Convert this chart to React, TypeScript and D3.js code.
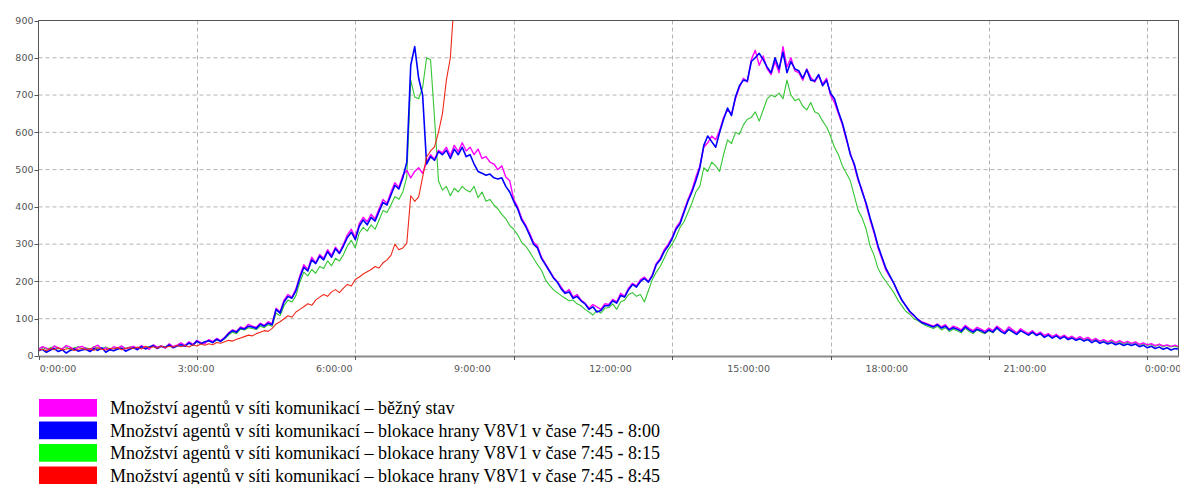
import React, { useEffect, useRef } from 'react';
import * as d3 from 'd3';

// vzorky po 5 minutach od 0:00
const STEP_MIN = 5;

const bezny = [
  18, 25, 21, 16, 27, 22, 19, 28, 24, 17, 23, 26,
  20, 15, 24, 29, 18, 22, 16, 25, 21, 27, 19, 23,
  26, 20, 28, 22, 18, 30, 24, 27, 21, 33, 25, 29,
  35, 28, 38, 31, 42, 36, 33, 44, 39, 47, 41, 50,
  62, 70, 66, 78, 74, 85, 80, 77, 88, 82, 92, 86,
  128, 118, 150, 165, 158, 180, 215, 245, 232, 265, 250, 272,
  262, 285, 270, 292, 278, 300, 325, 340, 318, 355, 372, 360,
  380, 368, 395, 420, 410, 440, 465, 452, 485, 498, 478, 495,
  505, 490, 520, 540, 528, 552, 545, 560, 538, 565, 548, 572,
  550, 560, 540, 555, 530, 535, 520, 515, 500, 510, 480, 470,
  420, 400, 370, 352, 330, 305, 295, 265, 248, 230, 212, 200,
  185, 170, 178, 158, 165, 150, 142, 128, 138, 132, 125, 140,
  138, 152, 145, 168, 160, 182, 195, 188, 205, 212, 200, 218,
  248, 262, 285, 300, 318, 345, 360, 390, 420, 445, 480, 510,
  560, 572, 590, 580, 605, 640, 660, 650, 690, 720, 745, 735,
  795, 820, 780, 805, 770, 755, 790, 760, 830, 775, 800, 765,
  760, 740, 770, 748, 735, 752, 730, 745, 700, 680, 650, 620,
  580, 545, 510, 470, 445, 405, 365, 330, 290, 260, 230, 212,
  195, 170, 150, 135, 118, 108, 100, 92, 88, 84, 80, 86,
  78, 84, 72, 80, 76, 70, 82, 74, 68, 77, 72, 66,
  75, 68, 80, 72, 64, 78, 70, 62, 73, 66, 60, 68,
  58, 64, 55, 60, 52, 58, 50, 56, 48, 53, 46, 52,
  45, 50, 42, 47, 40, 44, 38, 43, 36, 41, 35, 39,
  34, 38, 31, 35, 30, 33, 28, 32, 27, 30, 26, 29,
  25,
];

const blokace800 = [
  14, 18, 10, 16, 20, 12, 17, 8, 15, 19, 13, 16,
  18, 12, 20, 15, 22, 10, 17, 14, 19, 21, 13, 18,
  22, 17, 25, 19, 24, 28, 20, 26, 23, 30, 22, 27,
  30, 26, 35, 29, 40, 33, 38, 41, 36, 45, 39, 48,
  60, 68, 64, 75, 72, 80, 78, 74, 85, 80, 88, 84,
  125, 115, 145, 160, 155, 175, 210, 238, 228, 258, 248, 268,
  258, 280, 265, 288, 275, 295, 318, 332, 312, 348, 365, 352,
  372, 362, 388, 412, 405, 432, 458, 448, 478, 520, 780, 830,
  745, 700, 515, 535, 525, 548, 540, 552, 530, 555, 540, 560,
  535, 540, 515, 495, 490, 485, 488, 478, 475, 478, 455, 440,
  415, 395, 365, 348, 325, 300, 290, 262, 245, 228, 210, 198,
  180, 168, 172, 155, 160, 148, 140, 125, 132, 118, 122, 135,
  135, 148, 142, 162, 158, 178, 192, 185, 200, 208, 198, 215,
  245, 258, 280, 295, 315, 340, 355, 385, 415, 440, 470, 505,
  565, 590, 575, 560, 600, 635, 665, 645, 695, 725, 740, 738,
  790, 800, 812, 795, 775, 760, 800, 770, 815, 760, 790, 770,
  765, 745, 768, 740, 738, 755, 725, 740, 705, 690, 655, 625,
  585, 540, 515, 475, 440, 410, 370, 335, 295, 265, 235, 215,
  195, 172, 150, 135, 120, 110, 98, 90, 86, 82, 78, 84,
  75, 80, 70, 76, 72, 66, 78, 70, 64, 72, 68, 62,
  70, 64, 76, 66, 60, 72, 65, 58, 68, 62, 56, 64,
  55, 60, 50, 56, 48, 54, 46, 52, 44, 48, 42, 46,
  40, 44, 36, 42, 34, 38, 32, 36, 30, 34, 28, 32,
  28, 32, 25, 29, 22, 26, 20, 24, 18, 22, 16, 20,
  18,
];

const blokace815 = [
  20, 23, 18, 22, 26, 19, 21, 24, 17, 22, 25, 20,
  22, 18, 25, 21, 20, 24, 19, 23, 18, 26, 21, 24,
  24, 21, 27, 23, 25, 28, 22, 26, 24, 29, 25, 28,
  32, 29, 36, 31, 38, 34, 36, 40, 37, 43, 40, 46,
  56, 64, 60, 72, 70, 76, 74, 71, 80, 76, 84, 80,
  115, 108, 135, 150, 145, 162, 198, 225, 215, 232, 222, 240,
  235, 255, 242, 262, 255, 272, 295, 310, 290, 330, 345, 335,
  352, 340, 365, 390, 385, 405, 428, 420, 440, 480, 740, 695,
  690, 720, 800, 795, 640, 470, 445, 455, 430, 450, 440, 455,
  445, 440, 455, 425, 440, 415, 420, 405, 395, 380, 368, 350,
  340, 325, 305, 295, 280, 262, 245, 230, 205, 190, 178, 170,
  162, 155, 148, 150, 140, 135, 125, 118, 110, 122, 115, 128,
  130, 140, 125, 145, 150, 165, 170, 160, 165, 145, 175, 205,
  225, 240, 262, 285, 300, 320, 345, 360, 385, 410, 440, 455,
  505, 495, 520, 510, 495, 540, 580, 570, 600, 595, 620, 635,
  640, 655, 630, 660, 690, 700, 695, 705, 690, 740, 700, 685,
  690, 670, 660, 680, 655, 650, 630, 615, 590, 560, 540, 510,
  490, 470, 430, 390, 370, 340, 295, 270, 235, 215, 200, 185,
  170, 150, 135, 120, 112, 100, 95, 88, 82, 78, 74, 80,
  70, 76, 66, 72, 68, 62, 74, 66, 60, 70, 64, 60,
  68, 62, 74, 66, 60, 70, 64, 58, 68, 62, 56, 62,
  56, 60, 52, 58, 50, 55, 48, 54, 46, 50, 44, 48,
  42, 46, 40, 44, 38, 42, 36, 40, 34, 38, 32, 36,
  32, 36, 29, 33, 28, 31, 26, 30, 25, 28, 24, 27,
  22,
];

// po 8:45 mimo rozsah grafu
const blokace845 = [
  15, 18, 14, 20, 17, 22, 16, 19, 21, 15, 18, 20,
  17, 20, 15, 22, 18, 16, 21, 19, 23, 17, 20, 22,
  20, 24, 19, 26, 22, 25, 21, 27, 23, 26, 24, 28,
  25, 28, 24, 30, 27, 32, 29, 33, 30, 36, 34, 38,
  42, 40, 45, 48, 52, 56, 54, 60, 64, 68, 66, 74,
  86, 92, 100, 108, 104, 118, 125, 132, 140, 136, 150, 158,
  165, 160, 172, 178, 170, 182, 192, 188, 205, 212, 220, 226,
  232, 240, 236, 250, 258, 270, 300, 285, 290, 302, 430, 415,
  427, 480, 534, 550, 561, 600, 650, 740, 800, 960, 1100,
];

const seriesNames = [
  'Množství agentů v síti komunikací – běžný stav',
  'Množství agentů v síti komunikací – blokace hrany V8V1 v čase 7:45 - 8:00',
  'Množství agentů v síti komunikací – blokace hrany V8V1 v čase 7:45 - 8:15',
  'Množství agentů v síti komunikací – blokace hrany V8V1 v čase 7:45 - 8:45',
];
const swatchColors = ['#ff00ff', '#0000ff', '#00ff00', '#ff0000'];
const lineColors = ['#ff00ff', '#0000ff', '#33c633', '#f02818'];
const lineWidths = [1.4, 1.6, 1.1, 1.1];

const xTickLabels = ['0:00:00', '3:00:00', '6:00:00', '9:00:00', '12:00:00', '15:00:00', '18:00:00', '21:00:00', '0:00:00'];
const yTicks = [0, 100, 200, 300, 400, 500, 600, 700, 800, 900];
// mrizka po 200 minutach
const gridMinutes = [0, 200, 400, 600, 800, 1000, 1200, 1400];

const App = () => {
  const ref = useRef<SVGSVGElement | null>(null);

  useEffect(() => {
    const W = 1180;
    const H = 484;
    const plot = { left: 38.5, right: 1179, top: 20.5, bottom: 356 };

    const svg = d3.select(ref.current);
    svg.selectAll('*').remove();

    const x = d3.scaleLinear().domain([0, 24 * 60]).range([plot.left, plot.right]);
    const y = d3.scaleLinear().domain([0, 900]).range([plot.bottom, plot.top]);
    const xLab = d3
      .scalePoint<number>()
      .domain(d3.range(xTickLabels.length))
      .range([plot.left + 19.5, plot.right - 16]);

    svg.append('rect').attr('width', W).attr('height', H).attr('fill', '#fff');

    // mrizka
    svg
      .append('g')
      .selectAll('line')
      .data(yTicks.slice(1, -1))
      .enter()
      .append('line')
      .attr('x1', plot.left)
      .attr('x2', plot.right)
      .attr('y1', d => y(d))
      .attr('y2', d => y(d))
      .attr('stroke', '#b4b4b4')
      .attr('stroke-dasharray', '4,3');

    svg
      .append('g')
      .selectAll('line')
      .data(gridMinutes.slice(1))
      .enter()
      .append('line')
      .attr('x1', d => Math.round(x(d)) + 0.5)
      .attr('x2', d => Math.round(x(d)) + 0.5)
      .attr('y1', plot.top)
      .attr('y2', plot.bottom)
      .attr('stroke', '#b4b4b4')
      .attr('stroke-dasharray', '4,3');

    svg
      .append('clipPath')
      .attr('id', 'plotClip')
      .append('rect')
      .attr('x', plot.left)
      .attr('y', plot.top)
      .attr('width', plot.right - plot.left)
      .attr('height', plot.bottom - plot.top);

    const line = d3
      .line<number>()
      .x((d, i) => x(i * STEP_MIN))
      .y(d => y(d));

    const series = [bezny, blokace800, blokace815, blokace845];
    const order = [2, 0, 1, 3];
    const lines = svg.append('g').attr('clip-path', 'url(#plotClip)');
    order.forEach(k => {
      lines
        .append('path')
        .datum(series[k])
        .attr('fill', 'none')
        .attr('stroke', lineColors[k])
        .attr('stroke-width', lineWidths[k])
        .attr('stroke-linejoin', 'round')
        .attr('d', line);
    });

    // ramecek a osy
    svg
      .append('line')
      .attr('x1', plot.left)
      .attr('x2', plot.right)
      .attr('y1', plot.top)
      .attr('y2', plot.top)
      .attr('stroke', '#555');
    svg
      .append('line')
      .attr('x1', plot.right - 0.5)
      .attr('x2', plot.right - 0.5)
      .attr('y1', plot.top)
      .attr('y2', plot.bottom)
      .attr('stroke', '#555');
    svg
      .append('line')
      .attr('x1', plot.left)
      .attr('x2', plot.left)
      .attr('y1', plot.top)
      .attr('y2', plot.bottom)
      .attr('stroke', '#555');
    svg
      .append('line')
      .attr('x1', plot.left)
      .attr('x2', plot.right)
      .attr('y1', plot.bottom + 0.5)
      .attr('y2', plot.bottom + 0.5)
      .attr('stroke', '#8a8a8a')
      .attr('stroke-width', 2);

    const font = "'DejaVu Sans', sans-serif";

    const yAxis = svg.append('g');
    yTicks.forEach(t => {
      yAxis
        .append('line')
        .attr('x1', plot.left - 4)
        .attr('x2', plot.left)
        .attr('y1', Math.round(y(t)) + 0.5)
        .attr('y2', Math.round(y(t)) + 0.5)
        .attr('stroke', '#555');
      yAxis
        .append('text')
        .attr('x', plot.left - 5)
        .attr('y', y(t))
        .attr('dy', '0.35em')
        .attr('text-anchor', 'end')
        .style('font-family', font)
        .style('font-size', '9.5px')
        .attr('fill', '#555')
        .text(t);
    });

    const xAxis = svg.append('g');
    gridMinutes.forEach(m => {
      xAxis
        .append('line')
        .attr('x1', Math.round(x(m)) + 0.5)
        .attr('x2', Math.round(x(m)) + 0.5)
        .attr('y1', plot.bottom)
        .attr('y2', plot.bottom + 4)
        .attr('stroke', '#555');
    });
    xTickLabels.forEach((lab, i) => {
      xAxis
        .append('text')
        .attr('x', xLab(i) as number)
        .attr('y', plot.bottom + 15.5)
        .attr('text-anchor', 'middle')
        .style('font-family', font)
        .style('font-size', '9.5px')
        .attr('fill', '#555')
        .text(lab);
    });

    // legenda
    const legend = svg.append('g').attr('transform', 'translate(39,399)');
    seriesNames.forEach((name, i) => {
      const g = legend.append('g').attr('transform', `translate(0,${i * 22.5})`);
      g.append('rect')
        .attr('width', 58)
        .attr('height', 17.7)
        .attr('fill', swatchColors[i]);
      g.append('text')
        .attr('x', 71)
        .attr('y', 15)
        .style('font-family', "'Liberation Serif', serif")
        .style('font-size', '18px')
        .attr('fill', '#000')
        .text(name);
    });
  }, []);

  return (
    <svg
      ref={ref}
      width={1180}
      height={484}
      style={{ position: 'absolute', left: 0, top: 0, display: 'block' }}
    />
  );
};

export default App;
